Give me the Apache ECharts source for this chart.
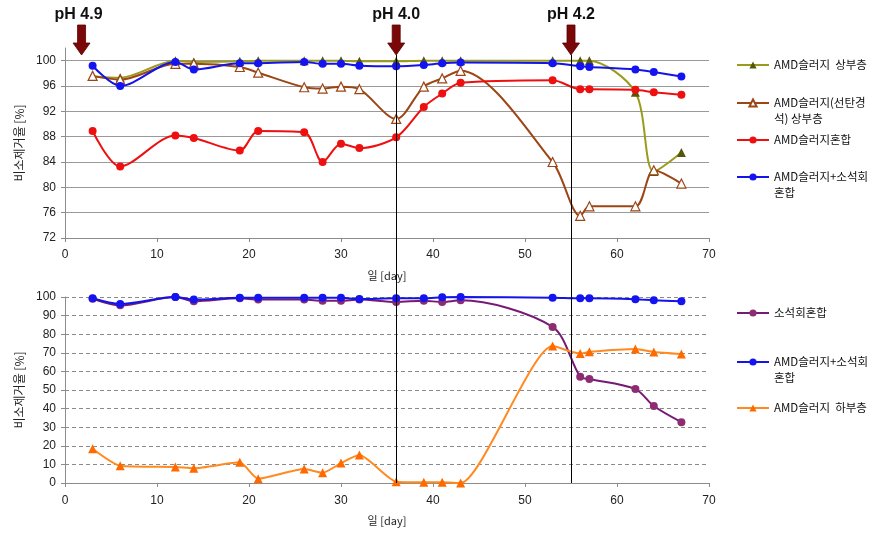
<!DOCTYPE html>
<html><head><meta charset="utf-8">
<script src="https://cdn.jsdelivr.net/npm/echarts@6/dist/echarts.min.js"></script>
<style>html,body{margin:0;padding:0;background:#fff}#c{width:892px;height:543px}</style>
</head><body><div id="c"></div>
<script>
// ---- data ----
const days = [3, 6, 12, 14, 19, 21, 26, 28, 30, 32, 36, 39, 41, 43, 53, 56, 57, 62, 64, 67];

// top panel
const sludgeUpper   = [97.5, 97.3, 100, 99.8, 99.9, 100, 100, 100, 100, 99.9, 99.9, 100, 100, 100, 100, 100, 100, 95.0, 82.5, 85.5];
const sludgeCoalUpper = [97.6, 97.0, 99.5, 99.5, 99.0, 98.1, 95.8, 95.6, 95.9, 95.5, 90.8, 95.9, 97.2, 98.4, 84.0, 75.5, 77.0, 77.0, 82.7, 80.6];
const sludgeMix     = [88.9, 83.3, 88.2, 87.8, 85.8, 88.9, 88.7, 84.0, 86.9, 86.2, 87.9, 92.7, 94.8, 96.5, 96.9, 95.5, 95.5, 95.4, 95.0, 94.6];
const sludgeLimeTop = [99.2, 96.0, 99.8, 98.6, 99.6, 99.6, 99.8, 99.5, 99.5, 99.2, 99.1, 99.3, 99.6, 99.7, 99.6, 99.1, 99.0, 98.6, 98.2, 97.5];

// bottom panel
const limeMix       = [99.0, 95.5, 100, 97.7, 99.3, 98.6, 98.6, 98.0, 98.0, 98.6, 97.3, 98.0, 97.3, 98.2, 83.9, 57.1, 55.9, 50.5, 41.4, 32.7];
const sludgeLimeBot = [99.3, 96.3, 100, 98.6, 99.6, 99.6, 99.6, 99.6, 99.6, 98.9, 99.3, 99.3, 99.8, 100, 99.6, 99.3, 99.3, 98.8, 98.2, 97.7];
const sludgeLower   = [18.4, 9.3, 8.6, 7.9, 11.1, 2.3, 7.5, 5.5, 10.7, 15.0, 0.7, 0.4, 0.4, 0.0, 73.6, 69.6, 70.5, 72.0, 70.4, 69.3];

const seriesNames = ['AMD슬러지 상부층', 'AMD슬러지(선탄경석) 상부층', 'AMD슬러지혼합', 'AMD슬러지+소석회혼합', '소석회혼합', 'AMD슬러지 하부층'];
const legendLabels = ['AMD슬러지  상부층', 'AMD슬러지(선탄경\n석) 상부층', 'AMD슬러지혼합', 'AMD슬러지+소석회\n혼합', '소석회혼합', 'AMD슬러지  하부층'];

const xTicks = [0, 10, 20, 30, 40, 50, 60, 70];
const yTicksTop = [72, 76, 80, 84, 88, 92, 96, 100];
const yTicksBottom = [0, 10, 20, 30, 40, 50, 60, 70, 80, 90, 100];

const axisTitleX = '일 [day]';
const axisTitleY = '비소제거율 [%]';

const phLabels = ['pH 4.9', 'pH 4.0', 'pH 4.2'];
const phDays = [1.8, 36, 55];
const phHasLine = [false, true, true];

// ---- chart ----
const FONT = '"Liberation Sans", Arial, "Noto Sans CJK KR", sans-serif';
const KFONT = '"Noto Sans CJK KR", "Liberation Sans", sans-serif';
const chart = echarts.init(document.getElementById('c'), null, {renderer: 'canvas'});

function pts(vals) { return days.map((d, i) => [d, vals[i]]); }

function mkSeries(name, vals, idx, lineColor, symbol, fill, border, size, z, smooth) {
  return {
    type: 'line', name: name, xAxisIndex: idx, yAxisIndex: idx,
    data: pts(vals), smooth: smooth, symbol: symbol, symbolSize: size,
    lineStyle: {color: lineColor, width: 2},
    itemStyle: {color: fill, borderColor: border, borderWidth: border === fill ? 0 : 1.2},
    emphasis: {disabled: true}, animation: false, z: z
  };
}

const axisLineGray = {show: true, lineStyle: {color: '#8c8c8c', width: 1}};
const labelStyle = {color: '#222', fontSize: 12, fontFamily: FONT};

function xAxis(idx, margin) {
  return {
    type: 'value', gridIndex: idx, min: xTicks[0], max: xTicks[xTicks.length - 1], interval: 10,
    axisLine: axisLineGray, axisTick: {show: true, inside: false, length: 4, lineStyle: {color: '#8c8c8c'}},
    axisLabel: Object.assign({margin: margin}, labelStyle), splitLine: {show: false},
    name: axisTitleX, nameLocation: 'middle', nameGap: 32,
    nameTextStyle: {color: '#222', fontSize: 11, fontFamily: KFONT}
  };
}

const topSplitColors = yTicksTop.map(() => '#9a9a9a').concat(['rgba(0,0,0,0)']);

const option = {
  backgroundColor: '#fff',
  animation: false,
  grid: [
    {left: 65, right: 183, top: 48, height: 190},
    {left: 65, right: 183, top: 297, height: 186}
  ],
  xAxis: [xAxis(0, 11), xAxis(1, 12)],
  yAxis: [
    {
      type: 'value', gridIndex: 0, min: yTicksTop[0], max: 102, interval: 4,
      axisLine: axisLineGray, axisTick: {show: true, length: 4, lineStyle: {color: '#8c8c8c'}},
      axisLabel: Object.assign({margin: 9, showMaxLabel: false,
        formatter: v => (yTicksTop.indexOf(v) >= 0 ? String(v) : '')}, labelStyle),
      splitLine: {show: true, lineStyle: {color: topSplitColors, width: 1}},
      name: axisTitleY, nameLocation: 'middle', nameGap: 29,
      nameTextStyle: {color: '#222', fontSize: 12, fontFamily: KFONT}
    },
    {
      type: 'value', gridIndex: 1, min: yTicksBottom[0], max: yTicksBottom[yTicksBottom.length - 1], interval: 10,
      axisLine: axisLineGray, axisTick: {show: true, length: 4, lineStyle: {color: '#8c8c8c'}},
      axisLabel: Object.assign({margin: 9}, labelStyle),
      splitLine: {show: true, lineStyle: {color: '#8a8a8a', width: 1, type: [4, 3]}},
      name: axisTitleY, nameLocation: 'middle', nameGap: 29,
      nameTextStyle: {color: '#222', fontSize: 12, fontFamily: KFONT}
    }
  ],
  legend: [],
  series: [
    mkSeries(seriesNames[0], sludgeUpper, 0, '#9a9a1c', 'triangle', '#56560a', '#56560a', 9, 2, 0.3),
    mkSeries(seriesNames[1], sludgeCoalUpper, 0, '#9c4616', 'triangle', '#ffffff', '#9c4616', 9, 3, 0.3),
    mkSeries(seriesNames[2], sludgeMix, 0, '#ee1010', 'circle', '#ee1010', '#ee1010', 8, 4, 0.3),
    mkSeries(seriesNames[3], sludgeLimeTop, 0, '#1414e6', 'circle', '#1414f0', '#1414f0', 8, 5, 0.3),
    mkSeries(seriesNames[4], limeMix, 1, '#761a76', 'circle', '#8e2c72', '#8e2c72', 8, 2, 0.3),
    mkSeries(seriesNames[3], sludgeLimeBot, 1, '#1414e6', 'circle', '#1414f0', '#1414f0', 8, 3, 0.3),
    mkSeries(seriesNames[5], sludgeLower, 1, '#ff8a20', 'triangle', '#ff6a00', '#ff6a00', 9, 4, 0.2)
  ]
};

// legends: one per entry, [series name index, label index, top]
const legendSpec = [
  [0, 0, 57], [1, 1, 79], [2, 2, 132], [3, 3, 153],
  [4, 4, 305], [3, 3, 338], [5, 5, 400]
];
legendSpec.forEach(s => {
  const label = legendLabels[s[1]];
  const twoLine = label.indexOf('\n') >= 0;
  option.legend.push({
    data: [seriesNames[s[0]]], left: 736, top: s[2], padding: 0,
    orient: 'vertical', itemWidth: 32, itemHeight: 9, itemGap: 0, selectedMode: false,
    formatter: () => (twoLine ? ' \n' + label : label),
    textStyle: {color: '#111', fontSize: 11.5, fontFamily: KFONT, lineHeight: 16}
  });
});

chart.setOption(option);

// pH arrows and vertical marker lines, positioned through the axes
const topY = chart.convertToPixel({yAxisIndex: 0}, 102);
const bottomY = chart.convertToPixel({yAxisIndex: 1}, 0);
const graphics = [];
phDays.forEach((d, i) => {
  const x = chart.convertToPixel({xAxisIndex: 0}, d);
  const tip = topY + 7;
  graphics.push({
    type: 'polygon', z: 100, silent: true,
    shape: {points: [[x - 4, tip - 30], [x + 4, tip - 30], [x + 4, tip - 12], [x + 8.5, tip - 12], [x, tip], [x - 8.5, tip - 12], [x - 4, tip - 12]]},
    style: {fill: '#7a0808', stroke: '#5a0000', lineWidth: 0.8}
  });
  graphics.push({
    type: 'text', z: 100, silent: true, x: x - 3 * (i === 0 ? 1 : 0), y: 15,
    style: {text: phLabels[i], fill: '#111', font: 'bold 16px ' + FONT, align: 'center', verticalAlign: 'middle'}
  });
  if (phHasLine[i]) {
    graphics.push({
      type: 'line', z: 100, silent: true,
      shape: {x1: Math.round(x) + 0.5, y1: tip, x2: Math.round(x) + 0.5, y2: bottomY},
      style: {stroke: '#000', lineWidth: 1}
    });
  }
});
chart.setOption({graphic: graphics});
</script>
</body></html>
